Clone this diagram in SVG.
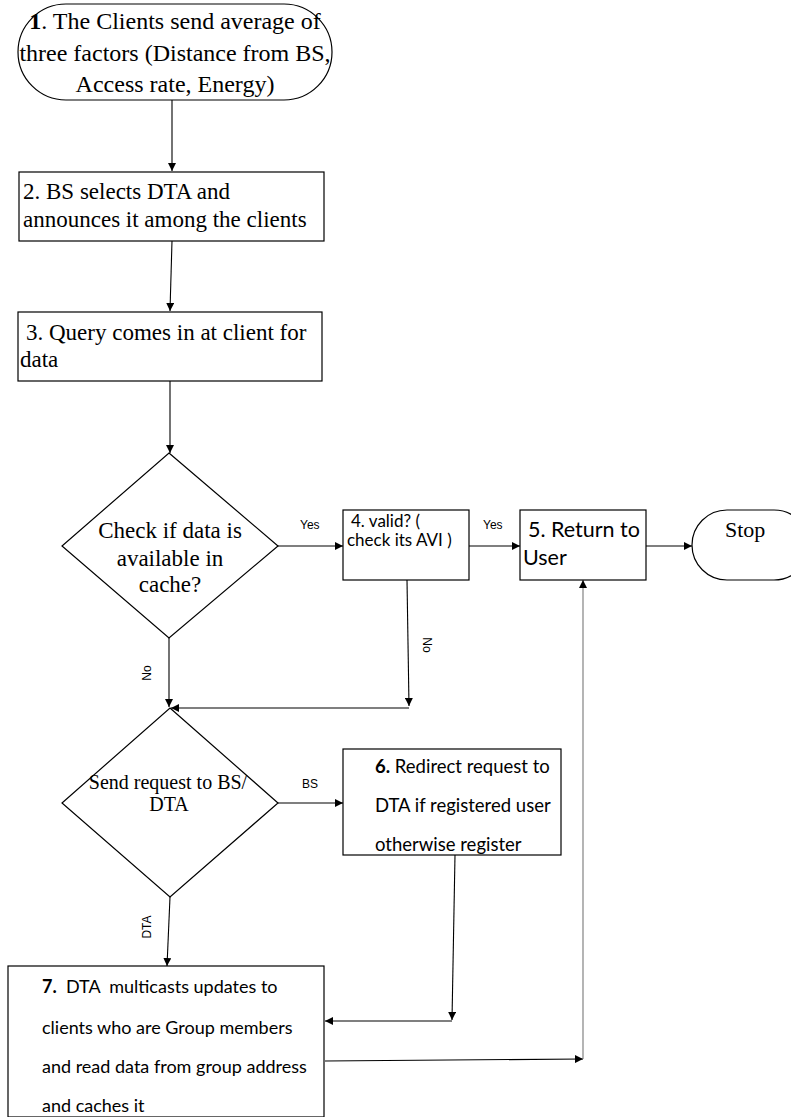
<svg xmlns="http://www.w3.org/2000/svg" width="791" height="1117" viewBox="0 0 791 1117">
<defs>
<marker id="arr" markerUnits="userSpaceOnUse" markerWidth="8" markerHeight="8" refX="8" refY="4" orient="auto">
<path d="M0,0 L8,4 L0,8 z" fill="#000"/>
</marker>
<style>
.shape{fill:#fff;stroke:#000;stroke-width:1.2}
.serif{font-family:"Liberation Serif","Times New Roman",serif;fill:#000}
.cal{font-family:Lato,"Open Sans",sans-serif;fill:#000}
.lbl{font-family:"Liberation Sans",Arial,sans-serif;font-size:12px;fill:#000}
.conn{fill:none;stroke:#000;stroke-width:1.1}
.gray{stroke:#777}
.b{font-weight:bold}
</style>
</defs>
<rect x="0" y="0" width="791" height="1117" fill="#fff"/>

<g id="connectors">
<line class="conn" x1="172" y1="100" x2="172" y2="171" marker-end="url(#arr)"/>
<line class="conn" x1="172" y1="241" x2="170" y2="311" marker-end="url(#arr)"/>
<line class="conn" x1="170" y1="381" x2="170" y2="453" marker-end="url(#arr)"/>
<line class="conn" x1="278" y1="546" x2="343" y2="546" marker-end="url(#arr)"/>
<text class="lbl" x="300" y="529">Yes</text>
<line class="conn" x1="469" y1="546" x2="520" y2="546" marker-end="url(#arr)"/>
<text class="lbl" x="483" y="529">Yes</text>
<line class="conn" x1="646" y1="546" x2="692" y2="546" marker-end="url(#arr)"/>
<line class="conn" x1="407" y1="580" x2="409" y2="706" marker-end="url(#arr)"/>
<text class="lbl" transform="translate(423,645) rotate(90)" text-anchor="middle">No</text>
<line class="conn" x1="409" y1="708" x2="171" y2="708" marker-end="url(#arr)"/>
<line class="conn" x1="169" y1="638" x2="169" y2="707" marker-end="url(#arr)"/>
<text class="lbl" transform="translate(151,673) rotate(-90)" text-anchor="middle">No</text>
<line class="conn" x1="278" y1="803" x2="343" y2="803" marker-end="url(#arr)"/>
<text class="lbl" x="302" y="788">BS</text>
<line class="conn" x1="170" y1="897" x2="167" y2="966" marker-end="url(#arr)"/>
<text class="lbl" transform="translate(151,927) rotate(-90)" text-anchor="middle">DTA</text>
<line class="conn" x1="455" y1="855" x2="452" y2="1020" marker-end="url(#arr)"/>
<line class="conn" x1="452" y1="1021" x2="325" y2="1021" marker-end="url(#arr)"/>
<line class="conn" x1="325" y1="1061" x2="583" y2="1059" marker-end="url(#arr)"/>
<line class="conn gray" x1="583" y1="1059" x2="583" y2="580" marker-end="url(#arr)"/>
</g>

<g id="node1">
<rect class="shape" x="18" y="4" width="314" height="96" rx="48" ry="48"/>
<text class="serif" font-size="24" text-anchor="middle"><tspan x="175" y="29"><tspan class="b">1</tspan>. The Clients send average of</tspan><tspan x="175" y="61">three factors (Distance from BS,</tspan><tspan x="175" y="92">Access rate, Energy)</tspan></text>
</g>

<g id="node2">
<rect class="shape" x="19" y="172" width="305" height="69"/>
<text class="serif" font-size="23"><tspan x="23" y="199">2. BS selects DTA and</tspan><tspan x="23" y="227">announces it among the clients</tspan></text>
</g>

<g id="node3">
<rect class="shape" x="18" y="312" width="304" height="69"/>
<text class="serif" font-size="23"><tspan x="26" y="340">3. Query comes in at client for</tspan><tspan x="20" y="367">data</tspan></text>
</g>

<g id="decision1">
<polygon class="shape" points="169,453 278,546 169,638 62,546"/>
<text class="serif" font-size="23" text-anchor="middle"><tspan x="170" y="538">Check if data is</tspan><tspan x="170" y="566">available in</tspan><tspan x="170" y="592">cache?</tspan></text>
</g>

<g id="node4">
<rect class="shape" x="343" y="510" width="126" height="70"/>
<text class="cal" font-size="17"><tspan x="351" y="527">4. valid? (</tspan><tspan x="347" y="546">check its AVI )</tspan></text>
</g>

<g id="node5">
<rect class="shape" x="520" y="510" width="126" height="70"/>
<text class="cal" font-size="21.5"><tspan x="528" y="537">5. Return to</tspan><tspan x="523" y="565">User</tspan></text>
</g>

<g id="stop">
<rect class="shape" x="692" y="510" width="117" height="70" rx="35" ry="35"/>
<text class="serif" font-size="22" x="725" y="537">Stop</text>
</g>

<g id="decision2">
<polygon class="shape" points="170,708 278,803 170,897 62,803"/>
<text class="serif" font-size="20" text-anchor="middle"><tspan x="168" y="789">Send request to BS/</tspan><tspan x="169" y="811">DTA</tspan></text>
</g>

<g id="node6">
<rect class="shape" x="343" y="749" width="218" height="106"/>
<text class="cal" font-size="18.5"><tspan x="375" y="773"><tspan class="b">6.</tspan> Redirect request to</tspan><tspan x="375" y="812">DTA if registered user</tspan><tspan x="375" y="851">otherwise register</tspan></text>
</g>

<g id="node7">
<rect class="shape" x="8" y="966" width="316" height="151"/>
<text class="cal" font-size="18" xml:space="preserve"><tspan x="42" y="993"><tspan class="b">7.</tspan>  DTA  multicasts updates to</tspan><tspan x="42" y="1034">clients who are Group members</tspan><tspan x="42" y="1073">and read data from group address</tspan><tspan x="42" y="1112">and caches it</tspan></text>
</g>
</svg>
